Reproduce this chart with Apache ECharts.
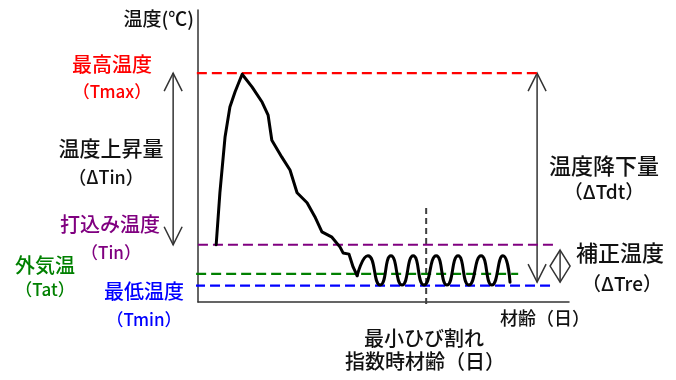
<!DOCTYPE html>
<html>
<head>
<meta charset="utf-8">
<script src="https://cdn.jsdelivr.net/npm/echarts@6/dist/echarts.min.js"></script>
<style>
html,body{margin:0;padding:0;background:#fff;}
#c{width:676px;height:380px;}
</style>
</head>
<body>
<div id="c"></div>
<script>
// ---- data (age in arbitrary day units, temperature in arbitrary ℃ units) ----
const curveAge  = [4.9, 5.9, 7.3, 8.6, 10.0, 11.9, 12.1, 14.6, 17.3, 18.9, 19.9, 22.6, 24.8, 26.7, 29.4, 31.5, 33.4, 36.1, 38.3, 39.1, 40.7, 41.8, 42.9,
                   45.8, 49.1, 52.0, 55.0, 58.0, 60.9, 64.2, 67.1, 70.1, 73.0, 76.3, 79.2, 82.2, 84.1];
const curveTemp = [9.8, 18.7, 28.3, 33.4, 36.0, 39.0, 39.2, 36.8, 34.2, 32.0, 27.7, 24.8, 22.6, 18.7, 17.0, 14.6, 12.0, 11.1, 9.4, 8.4, 8.2, 6.0, 4.5,
                   7.9, 2.9, 7.9, 2.9, 7.9, 2.9, 7.9, 2.9, 7.9, 2.9, 7.9, 2.9, 7.9, 3.4];
const oscillationStart = 22; // index where the daily cycle begins

const levelKeys  = ['Tmax', 'Tin', 'Tat', 'Tmin'];
const levelTemps = [39.2, 9.8, 4.8, 2.8];
const levelFrom  = [-8.4, -8.1, -28.8, -0.8];
const levelTo    = [91.6, 95.7, 86.3, 95.4];

const crackAge = 61.5;
const crackSpan = [16.1, -0.9];

const arrowAges  = [-6.7, 91.4];
const arrowTops  = [39.2, 39.2];
const arrowBots  = [9.8, 3.4];
const diamondAge = 97.6;
const diamondSpan = [8.9, 3.4];

// ---- styles ----
const levelColors = ['#ff0000', '#800080', '#008000', '#0000ff'];
const FONT = '"Noto Sans CJK JP", "Noto Sans", sans-serif';

const chart = echarts.init(document.getElementById('c'), null, {renderer: 'canvas'});

const pts = curveAge.map((a, i) => [a, curveTemp[i]]);
const series = [];
levelKeys.forEach((k, i) => {
  series.push({
    type: 'line', name: k, clip: false, symbol: 'none', silent: true,
    data: [[levelFrom[i], levelTemps[i]], [levelTo[i], levelTemps[i]]],
    lineStyle: {color: levelColors[i], width: 2.2, type: [10, 5]},
    z: 3
  });
});
series.push({
  type: 'line', name: 'crack', clip: false, symbol: 'none', silent: true,
  data: [[crackAge, crackSpan[0]], [crackAge, crackSpan[1]]],
  lineStyle: {color: '#404040', width: 2, type: [6, 4]},
  z: 2
});
series.push({
  type: 'line', name: 'temp-rise-fall', clip: false, symbol: 'none', smooth: false, silent: true,
  data: pts.slice(0, oscillationStart + 1),
  lineStyle: {color: '#000', width: 3, join: 'round', cap: 'round'},
  z: 5
});
series.push({
  type: 'line', name: 'temp-cycle', clip: false, symbol: 'none', smooth: 0.6, silent: true,
  data: pts.slice(oscillationStart),
  lineStyle: {color: '#000', width: 3, cap: 'round'},
  z: 5
});
series.push({
  type: 'custom', name: 'arrows', clip: false, silent: true,
  data: arrowAges.map((a, i) => [a, arrowTops[i], arrowBots[i]]),
  encode: {x: 0, y: [1, 2]},
  renderItem: function (params, api) {
    const a = api.coord([api.value(0), api.value(1)]);
    const b = api.coord([api.value(0), api.value(2)]);
    const st = {stroke: '#333', lineWidth: 1.5, fill: null};
    return {type: 'group', children: [
      {type: 'line', shape: {x1: a[0], y1: a[1], x2: b[0], y2: b[1]}, style: st},
      {type: 'polyline', shape: {points: [[a[0] - 9, a[1] + 18], [a[0], a[1]], [a[0] + 9, a[1] + 18]]}, style: st},
      {type: 'polyline', shape: {points: [[b[0] - 9, b[1] - 18], [b[0], b[1]], [b[0] + 9, b[1] - 18]]}, style: st}
    ]};
  }
});
series.push({
  type: 'custom', name: 'diamond', clip: false, silent: true,
  data: [[diamondAge, diamondSpan[0], diamondSpan[1]]],
  encode: {x: 0, y: [1, 2]},
  renderItem: function (params, api) {
    const a = api.coord([api.value(0), api.value(1)]);
    const b = api.coord([api.value(0), api.value(2)]);
    const m = (a[1] + b[1]) / 2;
    const st = {stroke: '#333', lineWidth: 1.5, fill: null};
    return {type: 'group', children: [
      {type: 'polygon', shape: {points: [[a[0], a[1]], [a[0] + 10, m], [b[0], b[1]], [a[0] - 10, m]]}, style: st},
      {type: 'line', shape: {x1: a[0], y1: a[1], x2: b[0], y2: b[1]}, style: st}
    ]};
  }
});

function txt(s, x, y, size, color, align) {
  return {type: 'text', x: x, y: y, silent: true,
    style: {text: s, fill: color, font: '500 ' + size + 'px ' + FONT, textAlign: align || 'center', textVerticalAlign: 'middle'}};
}

const labels = [
  txt('最高温度', 112, 64, 20, '#ff0000'),
  txt('（Tmax）', 112, 92, 17, '#ff0000'),
  txt('温度上昇量', 111, 148, 21, '#111'),
  txt('（ΔTin）', 106, 177, 18, '#111'),
  txt('打込み温度', 110, 224, 20, '#800080'),
  txt('（Tin）', 111, 253, 17, '#800080'),
  txt('外気温', 45, 265, 20, '#008000'),
  txt('（Tat）', 45, 290, 17, '#008000'),
  txt('最低温度', 144, 291, 20, '#0000ff'),
  txt('（Tmin）', 144, 320, 17, '#0000ff'),
  txt('温度降下量', 604, 166, 22, '#111'),
  txt('（ΔTdt）', 604, 192, 19, '#111'),
  txt('補正温度', 620, 253, 22, '#111'),
  txt('（ΔTre）', 622, 284, 19, '#111'),
  txt('材齢（日）', 545, 318, 18, '#111'),
  txt('最小ひび割れ', 424, 338, 20, '#111'),
  txt('指数時材齢（日）', 425, 361, 20, '#111'),
  txt('温度(℃)', 194, 19, 19, '#111', 'right')
];

chart.setOption({
  animation: false,
  backgroundColor: '#fff',
  grid: {left: 198, right: 107, top: 10, bottom: 78, containLabel: false},
  xAxis: {type: 'value', min: 0, max: 100,
    axisLine: {show: true, onZero: false, lineStyle: {color: '#333', width: 1.5}},
    axisTick: {show: false}, axisLabel: {show: false}, splitLine: {show: false}},
  yAxis: {type: 'value', min: 0, max: 50,
    axisLine: {show: true, onZero: false, lineStyle: {color: '#333', width: 1.5}},
    axisTick: {show: false}, axisLabel: {show: false}, splitLine: {show: false}},
  series: series,
  graphic: labels
});
</script>
</body>
</html>
